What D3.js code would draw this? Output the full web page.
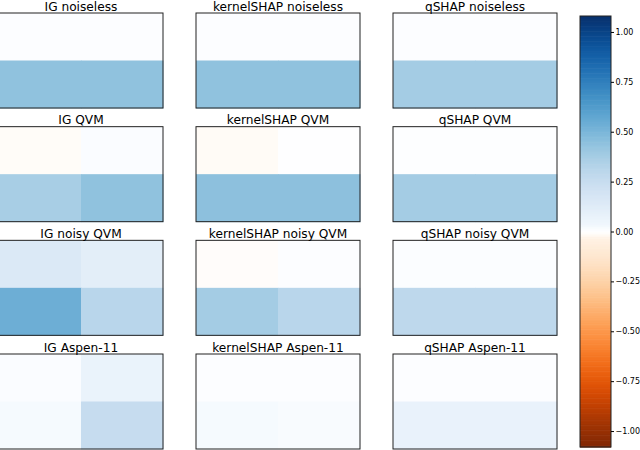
<!DOCTYPE html>
<html>
<head>
<meta charset="utf-8">
<script src="https://cdn.jsdelivr.net/npm/d3@7"></script>
<style>
html,body{margin:0;padding:0;background:#fff;}
svg{display:block;}
</style>
</head>
<body>
<svg id="chart" width="640" height="450"></svg>
<script>
// ---- data ----
const methods = ["IG", "kernelSHAP", "qSHAP"];
const backends = ["noiseless", "QVM", "noisy QVM", "Aspen-11"];
const cellRows = ["r0", "r1"];
const cellCols = ["c0", "c1"];
// each entry: [[top-left, top-right],[bottom-left, bottom-right]] per backend
const igValues = [
  [[0.01, 0.01], [0.44, 0.44]],
  [[-0.01, 0.015], [0.37, 0.44]],
  [[0.15, 0.11], [0.54, 0.31]],
  [[0.015, 0.07], [0.025, 0.26]]
];
const kernelShapValues = [
  [[0.01, 0.01], [0.44, 0.44]],
  [[-0.012, 0.005], [0.45, 0.45]],
  [[-0.008, 0.01], [0.38, 0.31]],
  [[0.01, 0.01], [0.025, 0.02]]
];
const qShapValues = [
  [[0.01, 0.01], [0.38, 0.38]],
  [[0.008, 0.008], [0.38, 0.38]],
  [[0.012, 0.012], [0.29, 0.29]],
  [[0.01, 0.01], [0.075, 0.075]]
];
const colorTicks = [-1.0, -0.75, -0.5, -0.25, 0, 0.25, 0.5, 0.75, 1.0];
const colorDomain = [-1.08, 1.08];

const allValues = [igValues, kernelShapValues, qShapValues];

// ---- layout ----
const svg = d3.select("#chart");
const panelW = 164, panelH = 95;
const panelX = d3.scalePoint().domain(methods).range([-1, 393]);
const panelY = d3.scalePoint().domain(backends).range([13, 354]);
const cx = d3.scaleBand().domain(cellCols).range([0, panelW]);
const cy = d3.scaleBand().domain(cellRows).range([0, panelH]);

function color(v) {
  const m = colorDomain[1];
  const t = Math.min(Math.abs(v) / m, 1);
  const base = v >= 0 ? d3.interpolateBlues(t) : d3.interpolateOranges(t);
  const w = Math.min(t / 0.03, 1);
  return d3.interpolateRgb("#ffffff", base)(w);
}

methods.forEach((m, mi) => {
  backends.forEach((b, bi) => {
    const g = svg.append("g")
      .attr("transform", `translate(${panelX(m)},${panelY(b)})`);
    const vals = allValues[mi][bi];
    const cells = [];
    cellRows.forEach((r, ri) => cellCols.forEach((c, ci) => cells.push({r, c, v: vals[ri][ci]})));
    g.selectAll("rect.cell").data(cells).join("rect")
      .attr("class", "cell")
      .attr("x", d => cx(d.c))
      .attr("y", d => cy(d.r))
      .attr("width", cx.bandwidth() + 0.5)
      .attr("height", cy.bandwidth() + 0.5)
      .attr("fill", d => color(d.v));
    g.append("rect")
      .attr("x", 0).attr("y", 0)
      .attr("width", panelW).attr("height", panelH)
      .attr("fill", "none").attr("stroke", "#222").attr("stroke-width", 1);
    g.append("text")
      .attr("x", panelW / 2).attr("y", -2.5)
      .attr("text-anchor", "middle")
      .attr("font-family", "DejaVu Sans")
      .attr("font-size", 12.2)
      .attr("fill", "#000")
      .text(`${m} ${b}`);
  });
});

// ---- colorbar ----
const cbX = 580, cbW = 31, cbTop = 16, cbBottom = 447;
const cbScale = d3.scaleLinear().domain(colorDomain).range([cbBottom, cbTop]);
const steps = d3.range(0, 256);
const cbStep = (colorDomain[1] - colorDomain[0]) / 256;
svg.append("g").selectAll("rect").data(steps).join("rect")
  .attr("x", cbX)
  .attr("y", i => cbScale(colorDomain[0] + (i + 1) * cbStep))
  .attr("width", cbW)
  .attr("height", i => cbScale(colorDomain[0] + i * cbStep) - cbScale(colorDomain[0] + (i + 1) * cbStep) + 0.6)
  .attr("fill", i => color(colorDomain[0] + (i + 0.5) * cbStep));
svg.append("rect")
  .attr("x", cbX).attr("y", cbTop)
  .attr("width", cbW).attr("height", cbBottom - cbTop)
  .attr("fill", "none").attr("stroke", "#222").attr("stroke-width", 1);
const axis = d3.axisRight(cbScale).tickValues(colorTicks)
  .tickFormat(d3.format(".2f")).tickSize(3).tickPadding(1.5);
const ag = svg.append("g").attr("transform", `translate(${cbX + cbW},0)`).call(axis);
ag.select(".domain").remove();
ag.selectAll("text").attr("font-family", "DejaVu Sans").attr("font-size", 8).attr("fill", "#000");
ag.selectAll("line").attr("stroke", "#000");
</script>
</body>
</html>
